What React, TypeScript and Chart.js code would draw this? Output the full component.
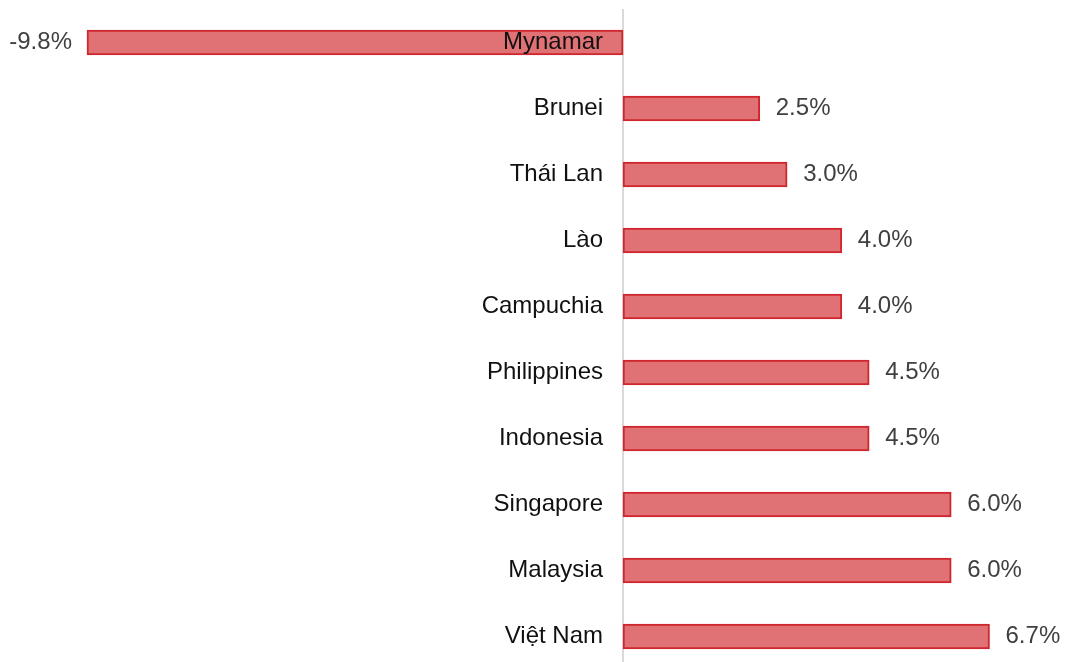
import React, { useEffect, useRef } from "react";
import { Chart, registerables } from "chart.js";

Chart.register(...registerables);

const categories = ["Mynamar", "Brunei", "Thái Lan", "Lào", "Campuchia", "Philippines", "Indonesia", "Singapore", "Malaysia", "Việt Nam"];
const growth = [-9.8, 2.5, 3.0, 4.0, 4.0, 4.5, 4.5, 6.0, 6.0, 6.7];
const valueLabels = ["-9.8%", "2.5%", "3.0%", "4.0%", "4.0%", "4.5%", "4.5%", "6.0%", "6.0%", "6.7%"];

const FONT = "24px 'Liberation Sans', Arial, sans-serif";

const labelPlugin = {
  id: "customLabels",
  beforeDatasetsDraw(chart: any) {
    const { ctx, chartArea, scales } = chart;
    const x0 = scales.x.getPixelForValue(0);
    ctx.save();
    ctx.strokeStyle = "#d9d9d9";
    ctx.lineWidth = 2;
    ctx.beginPath();
    ctx.moveTo(x0, chartArea.top + 9);
    ctx.lineTo(x0, chartArea.bottom);
    ctx.stroke();
    ctx.restore();
  },
  afterDatasetsDraw(chart: any) {
    const { ctx, scales } = chart;
    const x0 = scales.x.getPixelForValue(0);
    const meta = chart.getDatasetMeta(0);
    ctx.save();
    ctx.font = FONT;
    ctx.textBaseline = "middle";
    meta.data.forEach((bar: any, i: number) => {
      const y = bar.y;
      ctx.fillStyle = "#111111";
      ctx.textAlign = "right";
      ctx.fillText(categories[i], x0 - 20, y);
      ctx.fillStyle = "#404040";
      if (growth[i] >= 0) {
        ctx.textAlign = "left";
        ctx.fillText(valueLabels[i], bar.x + 16, y);
      } else {
        ctx.textAlign = "right";
        ctx.fillText(valueLabels[i], bar.x - 15, y);
      }
    });
    ctx.restore();
  },
};

export default function App() {
  const ref = useRef<HTMLCanvasElement | null>(null);
  useEffect(() => {
    document.body.style.margin = "0";
    const canvas = ref.current;
    if (!canvas) return;
    const chart = new Chart(canvas, {
      type: "bar",
      data: {
        datasets: [
          {
            data: growth.map((v, i) => ({ x: v, y: i })),
            backgroundColor: "#E07275",
            borderColor: "#D0262E",
            borderWidth: 2,
            borderSkipped: false,
            barThickness: 25,
          },
        ],
      },
      options: {
        indexAxis: "y",
        responsive: false,
        animation: false,
        layout: { padding: 0 },
        plugins: { legend: { display: false }, tooltip: { enabled: false } },
        scales: {
          x: { type: "linear", min: -11.39, max: 8.08, display: false },
          y: {
            type: "linear",
            reverse: true,
            offset: false,
            grid: { offset: false },
            min: -0.644,
            max: 9.386,
            display: false,
          },
        },
      },
      plugins: [labelPlugin],
    } as any);
    return () => chart.destroy();
  }, []);
  return (
    <div style={{ width: 1065, height: 662 }}>
      <canvas ref={ref} width={1065} height={662} style={{ display: "block" }} />
    </div>
  );
}
